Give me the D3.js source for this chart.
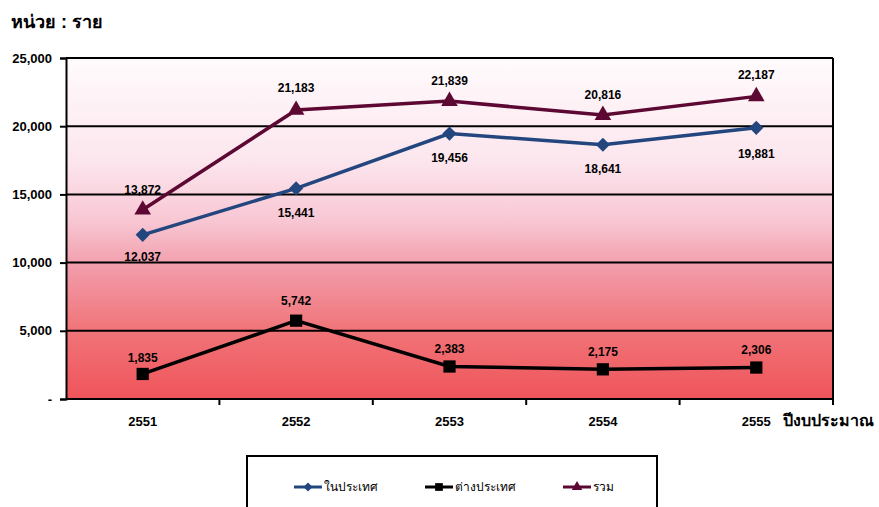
<!DOCTYPE html>
<html>
<head>
<meta charset="utf-8">
<script src="https://cdn.jsdelivr.net/npm/d3@7"></script>
<style>
  body { margin: 0; background: #fff; }
  svg { font-family: "Liberation Sans", Arial, sans-serif; }
</style>
</head>
<body>
<svg id="chart" width="879" height="507"></svg>
<script>
const years = ["2551", "2552", "2553", "2554", "2555"];
const domestic = [12037, 15441, 19456, 18641, 19881];
const foreign = [1835, 5742, 2383, 2175, 2306];
const total = [13872, 21183, 21839, 20816, 22187];
const yTicks = [0, 5000, 10000, 15000, 20000, 25000];

const svg = d3.select("#chart");
const margin = { top: 58, right: 46, bottom: 108, left: 66 };
const width = 879 - margin.left - margin.right;
const height = 507 - margin.top - margin.bottom;

const defs = svg.append("defs");
const grad = defs.append("linearGradient").attr("id", "bg").attr("x1", 0).attr("y1", 0).attr("x2", 0).attr("y2", 1);
[["0%", "#fffbfd"], ["30%", "#fce6ee"], ["48%", "#f8c6d3"], ["62%", "#f29aa8"], ["80%", "#f07478"], ["100%", "#ef545a"]]
  .forEach(s => grad.append("stop").attr("offset", s[0]).attr("stop-color", s[1]));

const g = svg.append("g").attr("transform", "translate(" + margin.left + "," + margin.top + ")");

const x = d3.scaleBand().domain(years).range([0, width]);
const y = d3.scaleLinear().domain([0, 25000]).range([height, 0]);

g.append("rect").attr("width", width).attr("height", height).attr("fill", "url(#bg)");

// gridlines
g.selectAll(".grid").data(yTicks.slice(1)).enter().append("line")
  .attr("x1", 0).attr("x2", width)
  .attr("y1", d => y(d)).attr("y2", d => y(d))
  .attr("stroke", "#000").attr("stroke-width", 2);

// right border
g.append("line").attr("x1", width).attr("x2", width).attr("y1", 0).attr("y2", height + 6)
  .attr("stroke", "#000").attr("stroke-width", 2);

// y axis
const yAxis = g.append("g")
  .call(d3.axisLeft(y).tickValues(yTicks).tickSize(6).tickPadding(8)
    .tickFormat(d => d === 0 ? "-" : d3.format(",")(d)));
yAxis.select(".domain").attr("stroke-width", 2);
yAxis.selectAll("line").attr("stroke-width", 2);
yAxis.selectAll("text").style("font-size", "13px").style("font-weight", "bold").attr("fill", "#000");

// x axis
const xAxis = g.append("g").attr("transform", "translate(0," + height + ")")
  .call(d3.axisBottom(x).tickSize(0).tickPadding(18));
xAxis.select(".domain").attr("stroke-width", 2).attr("d", "M0,0H" + width);
xAxis.selectAll("text").style("font-size", "13px").style("font-weight", "bold").attr("fill", "#000");
g.append("g").selectAll("line").data(years.slice(1)).enter().append("line")
  .attr("x1", d => x(d)).attr("x2", d => x(d))
  .attr("y1", height).attr("y2", height + 6)
  .attr("stroke", "#000").attr("stroke-width", 2);

const cx = d => x(d) + x.bandwidth() / 2;

// diamond = square turned 45 degrees
const series = [
  { name: "ในประเทศ", values: domestic, color: "#24467f", symbol: d3.symbolSquare, rotate: 45, size: 100, labelDy: [22, 24, 24, 24, 26] },
  { name: "ต่างประเทศ", values: foreign, color: "#000000", symbol: d3.symbolSquare, rotate: 0, size: 150, labelDy: [-16, -20, -18, -18, -18] },
  { name: "รวม", values: total, color: "#5c0833", symbol: d3.symbolTriangle, rotate: 0, size: 120, labelDy: [-20, -22, -20, -20, -22] }
];

const line = d3.line().x((d, i) => cx(years[i])).y(d => y(d));

series.forEach(s => {
  g.append("path").datum(s.values).attr("fill", "none").attr("stroke", s.color)
    .attr("stroke-width", 3.5).attr("d", line);
  g.selectAll(null).data(s.values).enter().append("path")
    .attr("d", d3.symbol().type(s.symbol).size(s.size))
    .attr("transform", (d, i) => "translate(" + cx(years[i]) + "," + y(d) + ") rotate(" + s.rotate + ")")
    .attr("fill", s.color);
  g.selectAll(null).data(s.values).enter().append("text")
    .attr("x", (d, i) => cx(years[i]))
    .attr("y", (d, i) => y(d) + s.labelDy[i])
    .attr("dy", "0.35em")
    .attr("text-anchor", "middle")
    .style("font-size", "12px").style("font-weight", "bold")
    .text(d => d3.format(",")(d));
});

// titles
svg.append("text").attr("x", 11).attr("y", 28).style("font-size", "18px").style("font-weight", "bold")
  .text("หน่วย : ราย");
svg.append("text").attr("x", 783).attr("y", 426).style("font-size", "16px").style("font-weight", "bold")
  .text("ปีงบประมาณ");

// legend
const legend = svg.append("g");
legend.append("rect").attr("x", 247).attr("y", 456).attr("width", 410).attr("height", 70)
  .attr("fill", "#fff").attr("stroke", "#000").attr("stroke-width", 2);
const legendX = [294, 425, 563];
series.forEach((s, i) => {
  const lg = legend.append("g").attr("transform", "translate(" + legendX[i] + ",487)");
  lg.append("line").attr("x1", 0).attr("x2", 28).attr("stroke", s.color).attr("stroke-width", 3);
  lg.append("path").attr("d", d3.symbol().type(s.symbol).size(s.size * 0.4))
    .attr("transform", "translate(14,0) rotate(" + s.rotate + ")").attr("fill", s.color);
  lg.append("text").attr("x", 30).attr("dy", "0.35em").style("font-size", "12px").text(s.name);
});
</script>
</body>
</html>
